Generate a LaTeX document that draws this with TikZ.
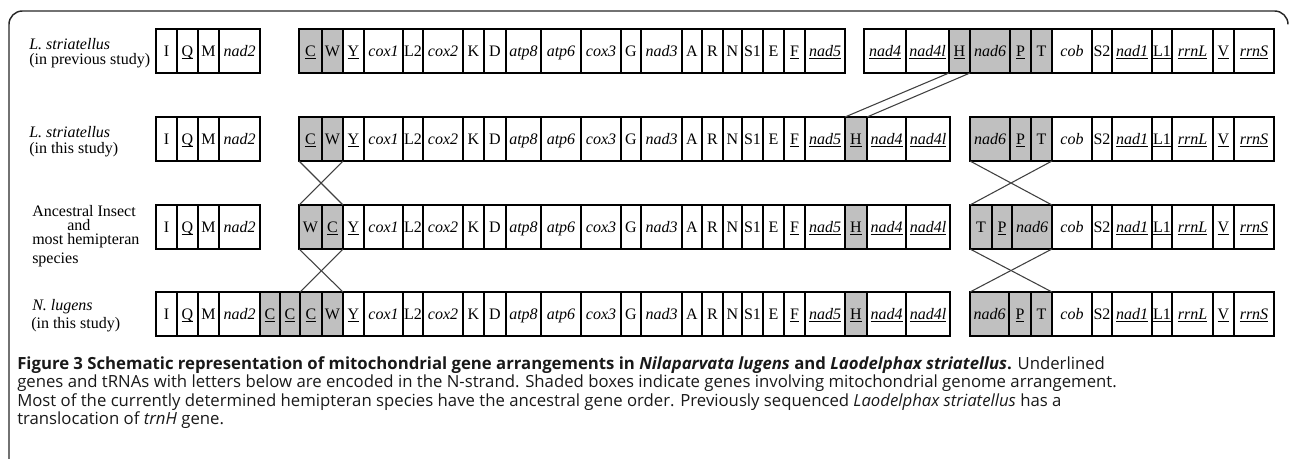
\documentclass[tikz,border=0pt]{standalone}
\usepackage{fontspec}
\setmainfont{Liberation Serif}
\newfontfamily\capfont{Open Sans}
\usetikzlibrary{fit}
\definecolor{shade}{RGB}{192,192,192}
\newcommand{\ul}[1]{\underline{\smash{#1}}}
\newcommand{\gi}[1]{\textit{#1}}
\tikzset{
  cell/.style={draw=black, line width=0.9pt, inner sep=0pt, outer sep=0pt,
    font=\fontsize{12}{14}\selectfont, text height=8pt, text depth=0pt, minimum height=33pt},
  grp/.style={draw=black, line width=2pt, inner sep=0pt, outer sep=0pt},
  link/.style={draw=black!75, line width=0.8pt},
  lab/.style={font=\fontsize{12}{14}\selectfont, inner sep=0pt, anchor=base west, text height=7.5pt, text depth=2pt},
  captext/.style={font=\capfont\fontsize{12.55}{14}\selectfont, inner sep=0pt, anchor=base west, text=black!90},
  frame/.style={draw=black!85, line width=1.1pt, rounded corners=10pt},
}
\newcommand{\generow}[3]{%
  \foreach \xa/\xb/\nm/\txt/\st in {#3} {
    \node[cell, fill=\st, anchor=north west, minimum width={(\xb-\xa)*0.75pt}] (#1\nm) at (\xa,#2) {\txt};
  }%
}
\newcommand{\leftgenes}[2]{\generow{#1}{#2}{156/177/I/I/white, 177/198/Q/\ul{Q}/white, 198/219/M/M/white, 219/260/nad2/\gi{nad2}/white}}
\newcommand{\midgenes}[2]{\generow{#1}{#2}{343/364/Y/\ul{Y}/white, 364/403/cox1/\gi{cox1}/white, 403/423/L2/L2/white, 423/463/cox2/\gi{cox2}/white, 463/484/K/K/white, 484/506/D/D/white, 506/541/atp8/\gi{atp8}/white, 541/581/atp6/\gi{atp6}/white, 581/621/cox3/\gi{cox3}/white, 621/641/G/G/white, 641/682/nad3/\gi{nad3}/white, 682/702/A/A/white, 702/723/R/R/white, 723/742/N/N/white, 742/763/S1/S1/white, 763/784/E/E/white, 784/805/F/\ul{F}/white, 805/845/nad5/\ul{\gi{nad5}}/white}}
\newcommand{\hgenes}[2]{\generow{#1}{#2}{845/867/H/\ul{H}/shade, 867/906/nad4/\ul{\gi{nad4}}/white, 906/950/nad4l/\ul{\gi{nad4l}}/white}}
\newcommand{\rightgenes}[2]{\generow{#1}{#2}{1052/1092/cob/\gi{cob}/white, 1092/1112/S2/S2/white, 1112/1152/nad1/\ul{\gi{nad1}}/white, 1152/1172/L1/\ul{L1}/white, 1172/1213/rrnL/\ul{\gi{rrnL}}/white, 1213/1234/V/\ul{V}/white, 1234/1274/rrnS/\ul{\gi{rrnS}}/white}}
\begin{document}
\begin{tikzpicture}[x=0.75pt, y=-0.75pt]
\useasboundingbox (0,0) rectangle (1290,458);
\draw[frame] (9,470) -- (9,11) -- (1288,11) -- (1288,22);
% Row 1
\leftgenes{r1}{29}
\generow{r1}{29}{299/322/C/\ul{C}/shade, 322/343/W/W/shade}
\midgenes{r1}{29}
\generow{r1}{29}{864/906/nad4/\ul{\gi{nad4}}/white, 906/949/nad4l/\ul{\gi{nad4l}}/white, 949/970/H/\ul{H}/shade, 970/1010/nad6/\gi{nad6}/shade, 1010/1031/P/\ul{P}/shade, 1031/1052/T/T/shade}
\rightgenes{r1}{29}
\node[grp, fit=(r1I)(r1nad2)] (r1ga) {};
\node[grp, fit=(r1C)(r1nad5)] (r1gb) {};
\node[grp, fit=(r1nad4)(r1rrnS)] (r1gc) {};
% Row 2
\leftgenes{r2}{117}
\generow{r2}{117}{299/322/C/\ul{C}/shade, 322/343/W/W/shade}
\midgenes{r2}{117}
\hgenes{r2}{117}
\generow{r2}{117}{970/1010/nad6/\gi{nad6}/shade, 1010/1031/P/\ul{P}/shade, 1031/1052/T/T/shade}
\rightgenes{r2}{117}
\node[grp, fit=(r2I)(r2nad2)] (r2ga) {};
\node[grp, fit=(r2C)(r2nad4l)] (r2gb) {};
\node[grp, fit=(r2nad6)(r2rrnS)] (r2gc) {};
% Row 3
\leftgenes{r3}{205}
\generow{r3}{205}{299/322/W/W/shade, 322/343/C/\ul{C}/shade}
\midgenes{r3}{205}
\hgenes{r3}{205}
\generow{r3}{205}{970/992/T/T/shade, 992/1012/P/\ul{P}/shade, 1012/1052/nad6/\gi{nad6}/shade}
\rightgenes{r3}{205}
\node[grp, fit=(r3I)(r3nad2)] (r3ga) {};
\node[grp, fit=(r3W)(r3nad4l)] (r3gb) {};
\node[grp, fit=(r3T)(r3rrnS)] (r3gc) {};
% Row 4
\leftgenes{r4}{292}
\generow{r4}{292}{260/280/Ca/\ul{C}/shade, 280/300/Cb/\ul{C}/shade, 300/322/Cc/\ul{C}/shade, 322/343/W/W/shade}
\midgenes{r4}{292}
\hgenes{r4}{292}
\generow{r4}{292}{970/1009/nad6/\gi{nad6}/shade, 1009/1031/P/\ul{P}/shade, 1031/1052/T/T/shade}
\rightgenes{r4}{292}
\node[grp, fit=(r4I)(r4nad4l)] (r4ga) {};
\node[grp, fit=(r4nad6)(r4rrnS)] (r4gc) {};
% connectors
\draw[link] (r1H.south west) -- (r2H.north west);
\draw[link] (r1H.south east) -- (r2H.north east);
\draw[link] (r2C.south west) -- (r3C.north east);
\draw[link] (r2W.south east) -- (r3W.north west);
\draw[link] (r3W.south west) -- (r4W.north east);
\draw[link] (r3C.south east) -- (r4Cc.north west);
\draw[link] (r2nad6.south west) -- (r3nad6.north east);
\draw[link] (r2T.south east) -- (r3T.north west);
\draw[link] (r3T.south west) -- (r4T.north east);
\draw[link] (r3nad6.south east) -- (r4nad6.north west);
% row labels
\node[lab] (l1a) at (29,49) {\textit{L. striatellus}};
\node[lab] (l1b) at (29,64) {(in previous study)};
\node[lab] (l2a) at (29,137) {\textit{L. striatellus}};
\node[lab] (l2b) at (29,153) {(in this study)};
\node[lab] (l3a) at (32,216) {Ancestral Insect};
\node[lab, text depth=0pt] (l3b) at (67,230) {and};
\node[lab] (l3c) at (32,244) {most hemipteran};
\node[lab] (l3d) at (32,263) {species};
\node[lab] (l4a) at (32,310) {\textit{N. lugens}};
\node[lab] (l4b) at (31,328) {(in this study)};
% caption
\node[captext] (c1) at (17,369) {\textbf{Figure 3 Schematic representation of mitochondrial gene arrangements in \textit{Nilaparvata lugens} and \textit{Laodelphax striatellus}.} Underlined};
\node[captext] (c2) at (17,387.5) {genes and tRNAs with letters below are encoded in the N-strand. Shaded boxes indicate genes involving mitochondrial genome arrangement.};
\node[captext] (c3) at (17,406) {Most of the currently determined hemipteran species have the ancestral gene order. Previously sequenced \textit{Laodelphax striatellus} has a};
\node[captext] (c4) at (17,424.5) {translocation of \textit{trnH} gene.};
\end{tikzpicture}
\end{document}
